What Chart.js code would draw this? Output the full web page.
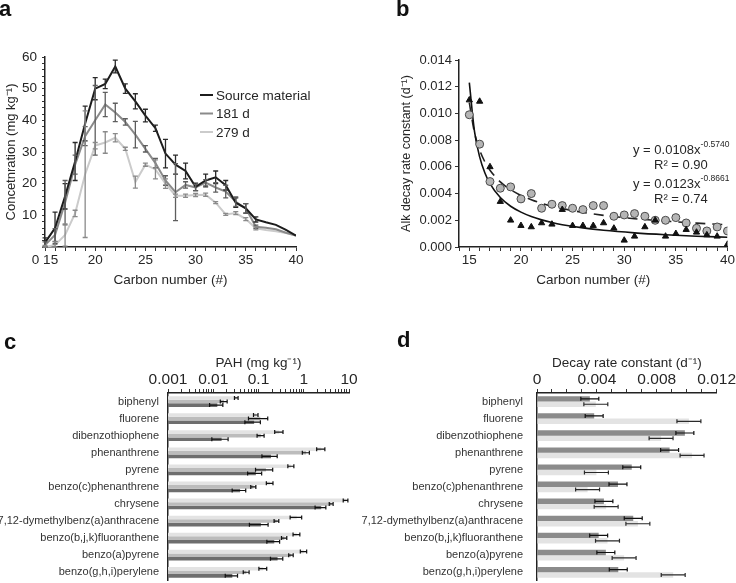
<!DOCTYPE html>
<html lang="en">
<head>
<meta charset="UTF-8">
<title>Alkane and PAH decay</title>
<script src="https://cdn.jsdelivr.net/npm/chart.js"></script>
<style>
  body { margin: 0; background: #fff; }
  #wrap { position: relative; width: 736px; height: 583px; overflow: hidden; background: #fff; }
  #wrap canvas { position: absolute; }
  .tag { position: absolute; font: bold 22px/22px 'Liberation Sans', Arial, sans-serif; color: #111; }
</style>
</head>
<body>
<div id="wrap">
  <canvas id="chartA" width="368" height="300" style="left:0;top:0"></canvas>
  <canvas id="chartB" width="368" height="300" style="left:368px;top:0"></canvas>
  <canvas id="chartC" width="368" height="283" style="left:0;top:300px"></canvas>
  <canvas id="chartD" width="380" height="283" style="left:356px;top:300px"></canvas>
  <div class="tag" style="left:-1px;top:-2px">a</div>
  <div class="tag" style="left:396px;top:-2px">b</div>
  <div class="tag" style="left:4px;top:331px">c</div>
  <div class="tag" style="left:397px;top:329px">d</div>
</div>

<script>
// ---- data ----
// panel a: alkane concentration by carbon number
const carbon = [15,16,17,18,19,20,21,22,23,24,25,26,27,28,29,30,31,32,33,34,35,36,37,38,39,40];
const sourceConc = [1.4,6,16,27,39,50,51.5,57,50,46,41.5,37.5,29.5,26,24,19,21,22,19.5,14,12.2,8.7,7.8,7,5.4,3.6];
const sourceErr  = [1.5,5,4,6,5.5,3.5,1.5,2,1.5,2.4,2,1,4.5,3,2.5,1.2,2,2,1.5,1.5,1.5,0.8,0,0,0,0];
const conc181 = [0.6,3.8,14,26,35,40,45,42.5,39.5,35.5,31,26.5,21,17.3,19.6,18.8,20.3,18.8,17.5,14.3,12.2,6.4,6.1,5.6,4.5,3.6];
const err181  = [1,2,7,3,3,11,3.8,2.9,1,4.2,1,1.5,1.5,9,1,1,1,1.5,2,1.5,1.5,0.5,0,0,0,0];
const conc279 = [0,0.6,3.8,10.6,23,32,33,34.5,31,20.5,26,24.5,20,16.2,16.2,16.4,16.5,14,10.3,10.7,8.8,5.9,5.4,5,4.4,3.6];
const err279  = [0.5,1,3.5,1,20,1,3.4,1.3,0.5,1.9,0.5,3,1.5,0.5,0.5,0.5,0.5,0.3,0.3,0.5,0.5,0.5,0,0,0,0];
const aTickLabels = { 15: '0 15', 20: '20', 25: '25', 30: '30', 35: '35', 40: '40' };

// panel b: decay rate constants
const rateCircles   = [0.0099,0.0077,0.0049,0.0044,0.0045,0.0036,0.0040,0.0029,0.0032,0.0031,0.0029,0.0028,0.0031,0.0031,0.0023,0.0024,0.0025,0.0023,0.0020,0.0020,0.0022,0.0018,0.0014,0.0012,0.0015,0.0012];
const rateTriangles = [0.0110,0.0109,0.0060,0.0034,0.0020,0.0016,0.0015,0.0018,0.0017,0.0028,0.0016,0.0016,0.0016,0.0018,0.0014,0.0005,0.0008,0.0015,0.0020,0.0008,0.0010,0.0013,0.0011,0.0009,0.0008,0.0002];
// trend lines
const fitX      = [15,15.5,16,16.5,17,18,19,20,21,22,23,24,26,28,31,34,37,40];
const fitSolid  = [0.0123,0.00866,0.00675,0.00556,0.00475,0.00370,0.00305,0.00261,0.00228,0.00203,0.00183,0.00167,0.00143,0.00125,0.00106,0.00092,0.00081,0.00073];
const fitDashed = [0.0108,0.00856,0.00726,0.00638,0.00575,0.00487,0.00429,0.00386,0.00354,0.00327,0.00306,0.00288,0.00259,0.00237,0.00212,0.00194,0.00179,0.00166];
const fitLabels = [
  { coef: '0.0108', exp: '-0.5740', r2: '0.90' },
  { coef: '0.0123', exp: '-0.8661', r2: '0.74' }
];

// panels c and d: PAHs
const pahNames = ['biphenyl','fluorene','dibenzothiophene','phenanthrene','pyrene','benzo(c)phenanthrene','chrysene','7,12-dymethylbenz(a)anthracene','benzo(b,j,k)fluoranthene','benzo(a)pyrene','benzo(g,h,i)perylene'];
const pahSource = [0.0324,0.0875,0.288,2.43,0.525,0.179,8.45,0.70,0.70,1.0,0.127];
const pahSourceErr = [0.003,0.01,0.06,0.5,0.08,0.03,1.0,0.2,0.12,0.16,0.025];
const pah181 = [0.0173,0.11,0.113,1.13,0.146,0.0774,4.06,0.251,0.372,0.525,0.054];
const pah181Err = [0.003,0.05,0.02,0.2,0.06,0.01,0.4,0.03,0.05,0.06,0.008];
const pah279 = [0.0123,0.08,0.0153,0.189,0.0875,0.0392,2.43,0.113,0.223,0.264,0.0264];
const pah279Err = [0.004,0.03,0.006,0.07,0.03,0.013,0.65,0.05,0.07,0.08,0.008];
const pahTicks = [0.001,0.002,0.003,0.004,0.005,0.006,0.007,0.008,0.009,0.01,0.02,0.03,0.04,0.05,0.06,0.07,0.08,0.09,0.1,0.2,0.3,0.4,0.5,0.6,0.7,0.8,0.9,1,2,3,4,5,6,7,8,9,10];

const decay181 = [0.00353,0.00382,0.00988,0.00886,0.00633,0.00541,0.00447,0.00643,0.00412,0.0046,0.00543];
const decay181Err = [0.0006,0.0006,0.0006,0.0006,0.0006,0.0006,0.0006,0.0006,0.0006,0.0006,0.0006];
const decay279 = [0.00393,0.01015,0.00829,0.01036,0.00397,0.00338,0.00462,0.00674,0.00471,0.00582,0.0091];
const decay279Err = [0.0008,0.0008,0.0008,0.0008,0.0008,0.0008,0.0008,0.0008,0.0008,0.0008,0.0008];

// ---- shared ----
const FONT = "'Liberation Sans', Arial, sans-serif";
Chart.defaults.font.family = FONT;
Chart.defaults.color = '#262626';
Chart.defaults.animation = false;
const axisLine = { color: '#222', width: 1.5 };

// vertical error bars (panel a)
const vErrorBars = {
  id: 'vErrorBars',
  afterDatasetsDraw(chart) {
    const { ctx, scales: { x, y } } = chart;
    chart.data.datasets.forEach(ds => {
      if (!ds.errors) return;
      ctx.save();
      ctx.strokeStyle = ds.errColor;
      ctx.lineWidth = 1.3;
      ds.data.forEach((p, i) => {
        const e = ds.errors[i];
        if (!e) return;
        const px = x.getPixelForValue(p.x);
        const y1 = y.getPixelForValue(Math.max(p.y - e, y.min));
        const y2 = y.getPixelForValue(p.y + e);
        ctx.beginPath();
        ctx.moveTo(px, y1); ctx.lineTo(px, y2);
        ctx.moveTo(px - 2.5, y1); ctx.lineTo(px + 2.5, y1);
        ctx.moveTo(px - 2.5, y2); ctx.lineTo(px + 2.5, y2);
        ctx.stroke();
      });
      ctx.restore();
    });
  }
};

// horizontal error bars (panels c, d)
const hErrorBars = {
  id: 'hErrorBars',
  afterDatasetsDraw(chart) {
    const { ctx } = chart;
    const xs = chart.scales.x;
    chart.data.datasets.forEach((ds, di) => {
      const meta = chart.getDatasetMeta(di);
      ctx.save();
      ctx.strokeStyle = ds.errColor || '#111';
      ctx.lineWidth = 1.2;
      meta.data.forEach((bar, i) => {
        const v = ds.data[i], e = ds.errors[i];
        const lo = Math.max(v - e, xs.min);
        const x1 = xs.getPixelForValue(lo), x2 = xs.getPixelForValue(v + e);
        const cy = bar.y;
        ctx.beginPath();
        ctx.moveTo(x1, cy); ctx.lineTo(x2, cy);
        ctx.moveTo(x1, cy - 2); ctx.lineTo(x1, cy + 2);
        ctx.moveTo(x2, cy - 2); ctx.lineTo(x2, cy + 2);
        ctx.stroke();
      });
      ctx.restore();
    });
  }
};

// legend inside the plot of panel a
const insideLegend = {
  id: 'insideLegend',
  afterDraw(chart) {
    const { ctx } = chart;
    ctx.save();
    ctx.font = '13.5px ' + FONT;
    ctx.textBaseline = 'middle';
    chart.data.datasets.forEach((ds, i) => {
      const y = 95 + i * 18.5;
      ctx.strokeStyle = ds.borderColor;
      ctx.lineWidth = 2;
      ctx.beginPath(); ctx.moveTo(200, y); ctx.lineTo(213, y); ctx.stroke();
      ctx.fillStyle = '#262626';
      ctx.fillText(ds.label, 216, y + 1);
    });
    ctx.restore();
  }
};

// fit equations in panel b
const fitText = {
  id: 'fitText',
  afterDraw(chart) {
    const { ctx } = chart;
    ctx.save();
    ctx.fillStyle = '#262626';
    ctx.textBaseline = 'alphabetic';
    fitLabels.forEach((f, i) => {
      const base = 154 + i * 34;
      ctx.font = '13px ' + FONT;
      const main = 'y = ' + f.coef + 'x';
      ctx.fillText(main, 265, base);
      const w = ctx.measureText(main).width;
      ctx.font = '8.5px ' + FONT;
      ctx.fillText(f.exp, 265 + w, base - 7);
      ctx.font = '13px ' + FONT;
      ctx.fillText('R\u00b2 = ' + f.r2, 286, base + 15);
    });
    ctx.restore();
  }
};

// ---- panel a ----
new Chart(document.getElementById('chartA'), {
  type: 'line',
  data: {
    datasets: [
      { label: 'Source material', data: carbon.map((c, i) => ({ x: c, y: sourceConc[i] })), errors: sourceErr, errColor: '#2a2a2a', borderColor: '#1c1c1c', borderWidth: 2, pointRadius: 0, tension: 0 },
      { label: '181 d', data: carbon.map((c, i) => ({ x: c, y: conc181[i] })), errors: err181, errColor: '#5e5e5e', borderColor: '#8a8a8a', borderWidth: 2, pointRadius: 0, tension: 0 },
      { label: '279 d', data: carbon.map((c, i) => ({ x: c, y: conc279[i] })), errors: err279, errColor: '#8a8a8a', borderColor: '#cbcbcb', borderWidth: 2, pointRadius: 0, tension: 0 }
    ]
  },
  options: {
    responsive: false,
    layout: { padding: { top: 57, right: 72, left: 0, bottom: 0 } },
    plugins: { legend: { display: false }, tooltip: { enabled: false } },
    scales: {
      x: {
        type: 'linear', min: 15, max: 40,
        afterFit: s => { s.height = 53; },
        ticks: { stepSize: 1, autoSkip: false, maxRotation: 0, padding: 1, font: { size: 13.5 }, callback: v => aTickLabels[v] || '' },
        grid: { drawOnChartArea: false, tickLength: 4, color: '#333' },
        border: axisLine,
        title: { display: true, text: 'Carbon number (#)', font: { size: 13.5 }, padding: { top: 0, bottom: 12 } }
      },
      y: {
        min: 0, max: 60,
        afterFit: s => { s.width = 45; },
        ticks: { stepSize: 2, autoSkip: false, padding: 5, font: { size: 13.5 }, callback: v => (v % 10 === 0 && v !== 0) ? v : '' },
        grid: { drawOnChartArea: false, tickLength: 3, color: '#333' },
        border: axisLine,
        title: { display: true, text: 'Concetnration (mg kg\u207b\u00b9)', font: { size: 13 }, padding: { top: 4, bottom: 0 } }
      }
    }
  },
  plugins: [vErrorBars, insideLegend]
});

// ---- panel b ----
new Chart(document.getElementById('chartB'), {
  type: 'scatter',
  data: {
    datasets: [
      { label: 'triangles', data: carbon.map((c, i) => ({ x: c, y: rateTriangles[i] })), pointStyle: 'triangle', pointRadius: 3.6, backgroundColor: '#111', borderColor: '#111', borderWidth: 1 },
      { label: 'circles', data: carbon.map((c, i) => ({ x: c, y: rateCircles[i] })), pointStyle: 'circle', pointRadius: 4, backgroundColor: '#b5b5b5', borderColor: '#4a4a4a', borderWidth: 1 },
      { label: 'fit solid', type: 'line', data: fitX.map((x, i) => ({ x, y: fitSolid[i] })), borderColor: '#111', borderWidth: 1.6, pointRadius: 0, cubicInterpolationMode: 'monotone', fill: false },
      { label: 'fit dashed', type: 'line', data: fitX.map((x, i) => ({ x, y: fitDashed[i] })), borderColor: '#222', borderWidth: 1.6, borderDash: [10, 7], pointRadius: 0, cubicInterpolationMode: 'monotone', fill: false }
    ]
  },
  options: {
    responsive: false,
    layout: { padding: { top: 60, right: 8, left: 0, bottom: 0 } },
    plugins: { legend: { display: false }, tooltip: { enabled: false } },
    scales: {
      x: {
        type: 'linear', min: 14, max: 40,
        afterFit: s => { s.height = 53; },
        ticks: { stepSize: 1, autoSkip: false, maxRotation: 0, padding: 1, font: { size: 13.5 }, callback: v => (v % 5 === 0 && v >= 15) ? v : '' },
        grid: { drawOnChartArea: false, tickLength: 4, color: '#333' },
        border: axisLine,
        title: { display: true, text: 'Carbon number (#)', font: { size: 13.5 }, padding: { top: 0, bottom: 12 } }
      },
      y: {
        min: 0, max: 0.014,
        afterFit: s => { s.width = 91; },
        ticks: { stepSize: 0.002, autoSkip: false, padding: 3, font: { size: 13 }, callback: v => v.toFixed(3) },
        grid: { drawOnChartArea: false, tickLength: 4, color: '#333' },
        border: axisLine,
        title: { display: true, text: 'Alk decay rate constant (d\u207b\u00b9)', font: { size: 12.5 }, padding: { top: 31, bottom: 0 } }
      }
    }
  },
  plugins: [fitText]
});

// ---- panel c ----
new Chart(document.getElementById('chartC'), {
  type: 'bar',
  data: {
    labels: pahNames,
    datasets: [
      { label: 'Source material', data: pahSource, errors: pahSourceErr, backgroundColor: '#e3e3e3' },
      { label: '181 d', data: pah181, errors: pah181Err, backgroundColor: '#bcbcbc' },
      { label: '279 d', data: pah279, errors: pah279Err, backgroundColor: '#6e6e6e' }
    ]
  },
  options: {
    responsive: false,
    indexAxis: 'y',
    categoryPercentage: 0.63,
    barPercentage: 1,
    layout: { padding: { top: 55, right: 19, left: 0, bottom: 2 } },
    plugins: { legend: { display: false }, tooltip: { enabled: false } },
    scales: {
      x: {
        type: 'logarithmic', position: 'top', min: 0.001, max: 10,
        afterFit: s => { s.height = 38; },
        afterBuildTicks: s => { s.ticks = pahTicks.map(v => ({ value: v })); },
        ticks: {
          autoSkip: false, maxRotation: 0, padding: 0, font: { size: 15.5 },
          callback: v => { const l = Math.log10(v); return Math.abs(l - Math.round(l)) < 1e-9 ? String(v) : ''; }
        },
        grid: { drawOnChartArea: false, tickLength: 4, color: '#333' },
        border: axisLine,
        title: { display: true, text: 'PAH (mg kg\u207b\u00b9)', font: { size: 13.5 }, padding: 0 }
      },
      y: {
        afterFit: s => { s.width = 168; },
        ticks: { autoSkip: false, padding: 0, font: { size: 11, lineHeight: 0.4 }, color: '#333' },
        grid: { display: false, drawTicks: true, tickLength: 9 },
        border: axisLine
      }
    }
  },
  plugins: [hErrorBars]
});

// ---- panel d ----
new Chart(document.getElementById('chartD'), {
  type: 'bar',
  data: {
    labels: pahNames,
    datasets: [
      { label: '181 d', data: decay181, errors: decay181Err, backgroundColor: '#8b8b8b' },
      { label: '279 d', data: decay279, errors: decay279Err, backgroundColor: '#e3e3e3', errColor: '#2a2a2a' }
    ]
  },
  options: {
    responsive: false,
    indexAxis: 'y',
    categoryPercentage: 0.63,
    barPercentage: 1,
    layout: { padding: { top: 55, right: 16, left: 0, bottom: 2 } },
    plugins: { legend: { display: false }, tooltip: { enabled: false } },
    scales: {
      x: {
        type: 'linear', position: 'top', min: 0, max: 0.012,
        afterFit: s => { s.height = 38; },
        ticks: {
          stepSize: 0.001, autoSkip: false, maxRotation: 0, padding: 0, font: { size: 15.5 },
          callback: v => { const k = Math.round(v * 1000); return k % 4 === 0 ? (k === 0 ? '0' : (k / 1000).toFixed(3)) : ''; }
        },
        grid: { drawOnChartArea: false, tickLength: 4, color: '#333' },
        border: axisLine,
        title: { display: true, text: 'Decay rate constant (d\u207b\u00b9)', font: { size: 13.5 }, padding: 0 }
      },
      y: {
        afterFit: s => { s.width = 181; },
        ticks: { autoSkip: false, padding: 0, font: { size: 11, lineHeight: 0.4 }, color: '#333' },
        grid: { display: false, drawTicks: true, tickLength: 14 },
        border: axisLine
      }
    }
  },
  plugins: [hErrorBars]
});
</script>
</body>
</html>
